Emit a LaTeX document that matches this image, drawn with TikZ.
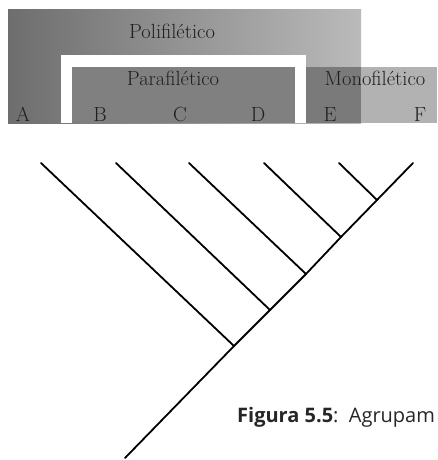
\documentclass[tikz,border=0pt]{standalone}
\usepackage{fontspec}
\newfontfamily\capfont{Open Sans}
\begin{document}
\begin{tikzpicture}[x=1pt,y=-1pt,
  lab/.style={font=\fontsize{20.5}{22}\selectfont, text=black!88, inner sep=0pt},
  branch/.style={line width=1.8pt, line cap=round}]
\useasboundingbox (0,0) rectangle (437,460);
\clip (0,0) rectangle (437,460);
% Polifiletico (inverted U with gradient)
\shade[shading=axis, left color=black!57, right color=black!27] (8,10) rectangle (361,123);
\fill[white] (61,55) rectangle (306,123);
% Parafiletico
\fill[black!50] (72,67) rectangle (295,123);
% Monofiletico
\fill[black!30] (361,67) rectangle (437,123);
\fill[black!52] (306,67) rectangle (361,123);
% labels
\node[lab] (poli) at (172,31) {Polifilético};
\node[lab] (para) at (173,78) {Parafilético};
\node[lab] (mono) at (375,78) {Monofilético};
\node[lab, anchor=base] (lA) at (23,121) {A};
\node[lab, anchor=base] (lB) at (100,121) {B};
\node[lab, anchor=base] (lC) at (180,121) {C};
\node[lab, anchor=base] (lD) at (258,121) {D};
\node[lab, anchor=base] (lE) at (330,121) {E};
\node[lab, anchor=base] (lF) at (420,121) {F};
% tree
\coordinate (root) at (125,458);
\coordinate (n1) at (234,346);
\coordinate (n2) at (270,310);
\coordinate (n3) at (306,274);
\coordinate (n4) at (341,237);
\coordinate (n5) at (377,200);
\coordinate (tA) at (41,163);
\coordinate (tB) at (116,163);
\coordinate (tC) at (189,163);
\coordinate (tD) at (264,163);
\coordinate (tE) at (339,163);
\coordinate (tF) at (413,163);
\draw[branch] (root) -- (n1) -- (n2) -- (n3) -- (n4) -- (n5) -- (tF);
\draw[branch] (n1) -- (tA);
\draw[branch] (n2) -- (tB);
\draw[branch] (n3) -- (tC);
\draw[branch] (n4) -- (tD);
\draw[branch] (n5) -- (tE);
% caption
\node[anchor=base west, inner sep=0pt, text=black!85, font=\capfont\fontsize{20}{22}\selectfont] (cap) at (237,422)
  {\textbf{Figura 5.5}:\ \ Agrupam};
\end{tikzpicture}
\end{document}
